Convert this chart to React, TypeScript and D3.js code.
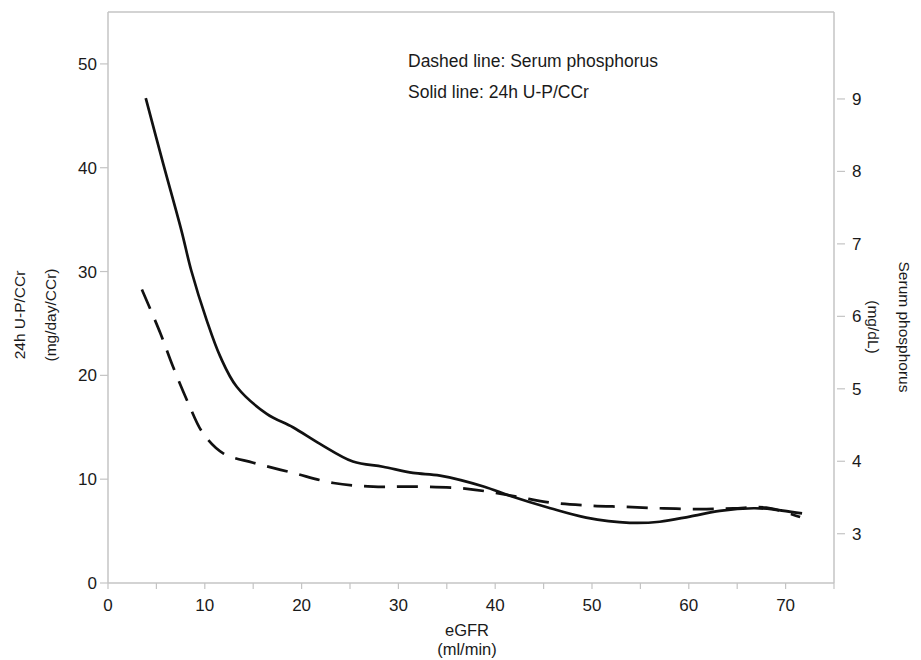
import React from "react";
import * as d3 from "d3";

const solidX = [3.9, 5.7, 7.6, 8.6, 10.2, 11.6, 13.3, 16.4, 19.1, 21.9, 25.3, 28.4, 31.5, 34.3, 38.8, 41.5, 45.7, 49.4, 53.9, 57.0, 60.1, 63.2, 66.7, 68.7, 71.7];
const solidY = [46.7, 40.4, 33.9, 30.1, 25.3, 21.8, 18.9, 16.3, 15.0, 13.4, 11.7, 11.2, 10.6, 10.35, 9.3, 8.4, 7.2, 6.3, 5.8, 5.9, 6.4, 6.95, 7.2, 7.1, 6.7];

const dashX = [3.5, 5.4, 6.7, 8.3, 9.8, 11.9, 15.0, 19.1, 23.3, 27.4, 31.5, 37.1, 41.9, 45.7, 49.4, 53.6, 57.4, 61.2, 64.6, 68.0, 71.5];
const dashY = [6.37, 5.77, 5.31, 4.8, 4.39, 4.11, 3.98, 3.84, 3.7, 3.65, 3.65, 3.62, 3.52, 3.43, 3.39, 3.37, 3.35, 3.34, 3.35, 3.36, 3.23];

const xTicks = [0, 10, 20, 30, 40, 50, 60, 70];
const xMinor = [0, 5, 10, 15, 20, 25, 30, 35, 40, 45, 50, 55, 60, 65, 70, 75];
const leftTicks = [0, 10, 20, 30, 40, 50];
const rightTicks = [3, 4, 5, 6, 7, 8, 9];

export default function App() {
  const W = 921, H = 660;
  const L = 108, R = 834, T = 12, B = 583;
  const x = d3.scaleLinear().domain([0, 75]).range([L, R]);
  const yL = d3.scaleLinear().domain([0, 55]).range([B, T]);
  const yR = d3.scaleLinear().domain([2.32, 10.2]).range([B, T]);
  const solidLine = d3.line<number>().x((d, i) => x(solidX[i])).y((d) => yL(d)).curve(d3.curveCatmullRom.alpha(0.5));
  const dashLine = d3.line<number>().x((d, i) => x(dashX[i])).y((d) => yR(d)).curve(d3.curveCatmullRom.alpha(0.5));
  const gray = "#c4c4c4";
  const ink = "#1a1a1a";
  const font = "'Liberation Sans', Arial, Helvetica, sans-serif";
  return (
    <svg width={W} height={H} style={{ position: "absolute", left: 0, top: 0, background: "#fff" }} fontFamily={font}>
      <rect x={0} y={0} width={W} height={H} fill="#fff" />
      {/* frame */}
      <line x1={L} x2={L} y1={T} y2={B} stroke={gray} strokeWidth={1.5} />
      <line x1={L} x2={R} y1={T} y2={T} stroke={gray} strokeWidth={1.5} />
      <line x1={R} x2={R} y1={T} y2={B} stroke={gray} strokeWidth={1.5} />
      <line x1={L} x2={R} y1={B} y2={B} stroke={gray} strokeWidth={1.5} />
      {/* x ticks */}
      {xMinor.map((t) => (
        <line key={"xm" + t} x1={x(t)} x2={x(t)} y1={B} y2={B + 6} stroke={gray} strokeWidth={1.2} />
      ))}
      {xTicks.map((t) => (
        <text key={"xt" + t} x={x(t)} y={B + 28} textAnchor="middle" fontSize={17} fill={ink}>{t}</text>
      ))}
      {/* left ticks */}
      {leftTicks.map((t) => (
        <g key={"lt" + t}>
          <line x1={L - 8} x2={L} y1={yL(t)} y2={yL(t)} stroke={gray} strokeWidth={1.2} />
          <text x={L - 11} y={yL(t) + 6} textAnchor="end" fontSize={17} fill={ink}>{t}</text>
        </g>
      ))}
      {/* right ticks */}
      {rightTicks.map((t) => (
        <g key={"rt" + t}>
          <line x1={R + 3} x2={R + 11} y1={yR(t)} y2={yR(t)} stroke={gray} strokeWidth={1.2} />
          <text x={R + 18} y={yR(t) + 6} textAnchor="start" fontSize={17} fill={ink}>{t}</text>
        </g>
      ))}
      {/* axis titles */}
      <text transform={`translate(25,315) rotate(-90)`} textAnchor="middle" fontSize={15.5} fill={ink}>24h U-P/CCr</text>
      <text transform={`translate(56,315) rotate(-90)`} textAnchor="middle" fontSize={15.5} fill={ink}>(mg/day/CCr)</text>
      <text transform={`translate(899,327) rotate(90)`} textAnchor="middle" fontSize={15.5} fill={ink}>Serum phosphorus</text>
      <text transform={`translate(868,327) rotate(90)`} textAnchor="middle" fontSize={15.5} fill={ink}>(mg/dL)</text>
      <text x={467} y={636} textAnchor="middle" fontSize={16.5} fill={ink}>eGFR</text>
      <text x={467} y={655} textAnchor="middle" fontSize={16.5} fill={ink}>(ml/min)</text>
      {/* legend */}
      <text x={408} y={67} fontSize={17.5} fill={ink}>Dashed line: Serum phosphorus</text>
      <text x={408} y={98} fontSize={17.5} fill={ink}>Solid line: 24h U-P/CCr</text>
      {/* lines */}
      <path d={dashLine(dashY) || ""} fill="none" stroke="#111" strokeWidth={2.7} strokeDasharray="21 12" />
      <path d={solidLine(solidY) || ""} fill="none" stroke="#111" strokeWidth={2.7} />
    </svg>
  );
}
